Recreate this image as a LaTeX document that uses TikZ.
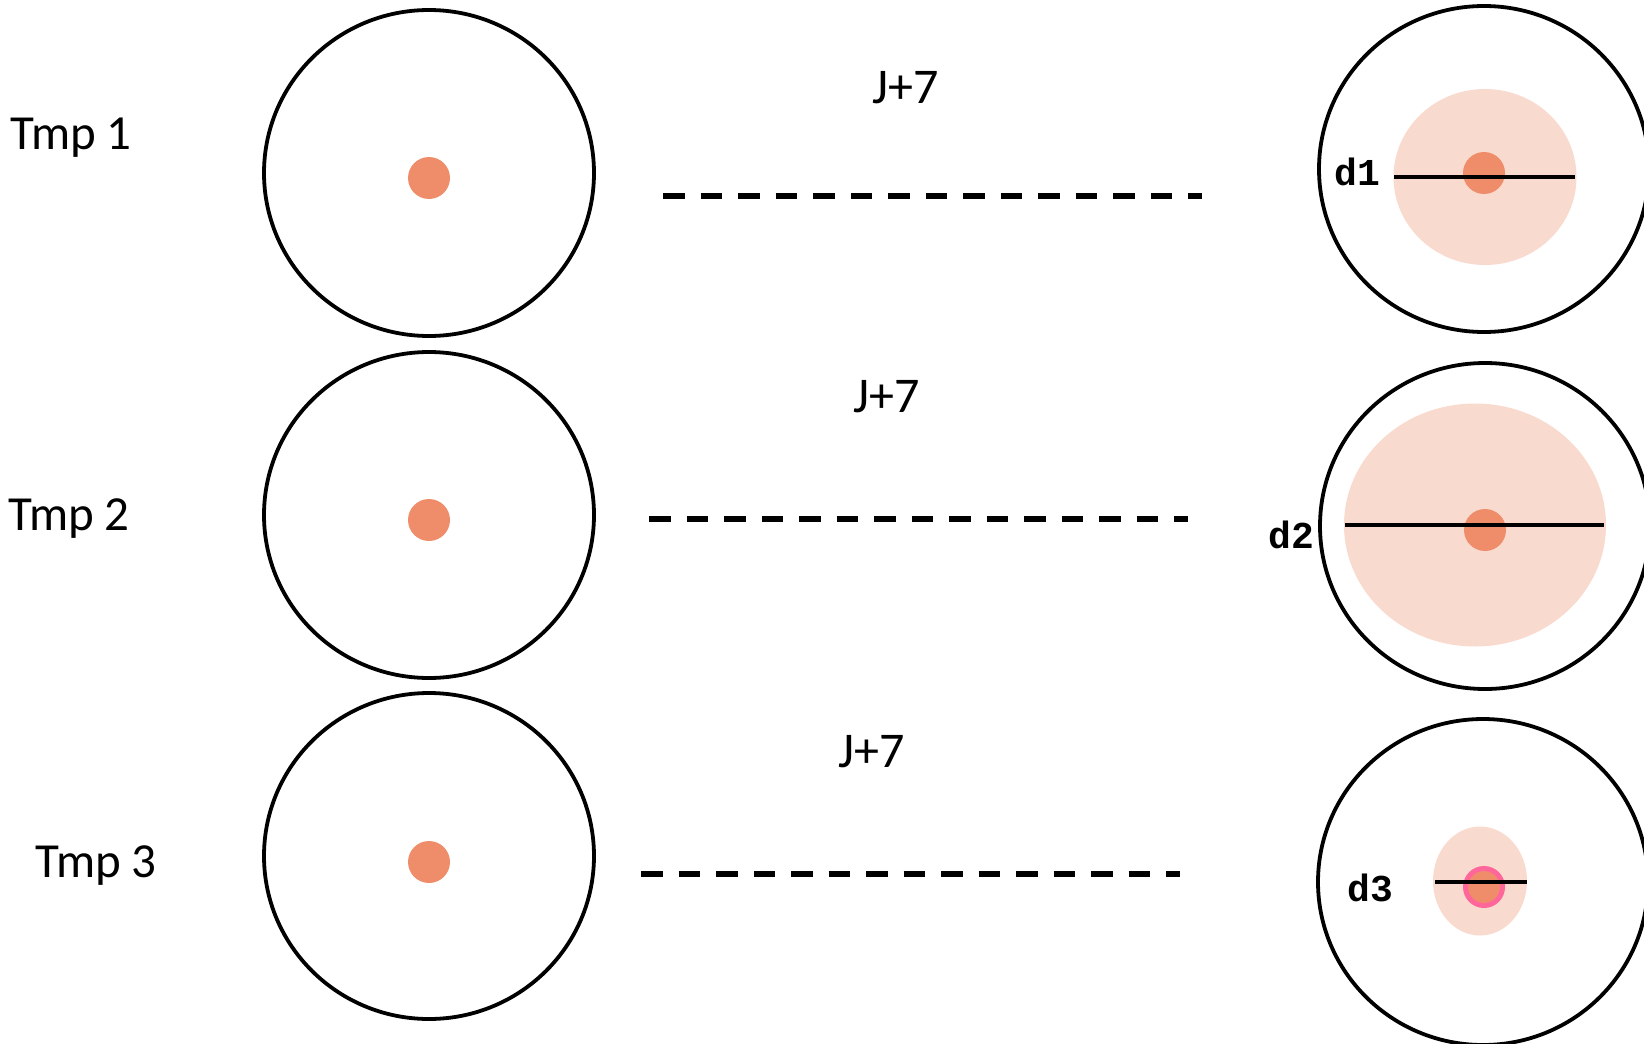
\documentclass[tikz,border=0pt]{standalone}
\usepackage{fontspec}
\setmainfont{Carlito}
\newfontfamily\dfont{Liberation Mono}
\usetikzlibrary{shapes.geometric}
\definecolor{dotc}{HTML}{EF8D6B}
\definecolor{halo}{HTML}{F8DACE}
\definecolor{ringc}{HTML}{FF6699}
\tikzset{
  outer/.style={ellipse, draw=black, line width=3.8pt, inner sep=0pt, minimum width=330pt, minimum height=326pt},
  core/.style={circle, fill=dotc, inner sep=0pt, minimum size=42pt},
  haloe/.style={ellipse, fill=halo, inner sep=0pt},
  dline/.style={line width=5.2pt, dash pattern=on 21.5pt off 16pt},
  dia/.style={line width=3.6pt},
  lab/.style={font=\fontsize{49}{55}\selectfont, inner sep=0pt},
  jlab/.style={font=\fontsize{50}{56}\selectfont, inner sep=0pt},
  dlab/.style={font=\dfont\bfseries\fontsize{38}{43}\selectfont, inner sep=0pt}
}
\begin{document}
\begin{tikzpicture}[x=1pt,y=-1pt]
\useasboundingbox (0,0) rectangle (1644,1044);
\clip (0,0) rectangle (1644,1044);
% left circles
\node[outer] (L1) at (429,173) {};
\node[outer] (L2) at (429,515) {};
\node[outer] (L3) at (429,856) {};
\node[core] (c1) at (429,178) {};
\node[core] (c2) at (429,520) {};
\node[core] (c3) at (429,862) {};
% labels
\node[lab] (t1) at (71,138) {Tmp 1};
\node[lab] (t2) at (69,519) {Tmp 2};
\node[lab] (t3) at (96,866) {Tmp 3};
\node[jlab] (j1) at (906,88) {J+7};
\node[jlab] (j2) at (887,397) {J+7};
\node[jlab] (j3) at (872,752) {J+7};
% dashed
\coordinate (a1) at (663,196); \coordinate (b1) at (1202,196);
\coordinate (a2) at (649,519); \coordinate (b2) at (1188,519);
\coordinate (a3) at (641,874); \coordinate (b3) at (1180,874);
\draw[dline] (a1) -- (b1);
\draw[dline] (a2) -- (b2);
\draw[dline] (a3) -- (b3);
% right circles
\node[outer] (R1) at (1484,169) {};
\node[outer] (R2) at (1485,526) {};
\node[outer] (R3) at (1483,882) {};
\node[haloe, minimum width=183pt, minimum height=176pt] (h1) at (1485,177) {};
\node[haloe, minimum width=262pt, minimum height=243pt] (h2) at (1475,525) {};
\node[haloe, minimum width=94pt, minimum height=109pt] (h3) at (1480,881) {};
\node[core] (k1) at (1484,173) {};
\node[core] (k2) at (1485,530) {};
\node[core, draw=ringc, line width=5pt, minimum size=37pt] (k3) at (1484,887) {};
\coordinate (p1) at (1394,177); \coordinate (q1) at (1575,177);
\coordinate (p2) at (1345,525); \coordinate (q2) at (1604,525);
\coordinate (p3) at (1435,882); \coordinate (q3) at (1527,882);
\draw[dia] (p1) -- (q1);
\draw[dia] (p2) -- (q2);
\draw[dia] (p3) -- (q3);
\node[dlab] (d1) at (1357,172) {d1};
\node[dlab] (d2) at (1291,535) {d2};
\node[dlab] (d3) at (1370,888) {d3};
\end{tikzpicture}
\end{document}
